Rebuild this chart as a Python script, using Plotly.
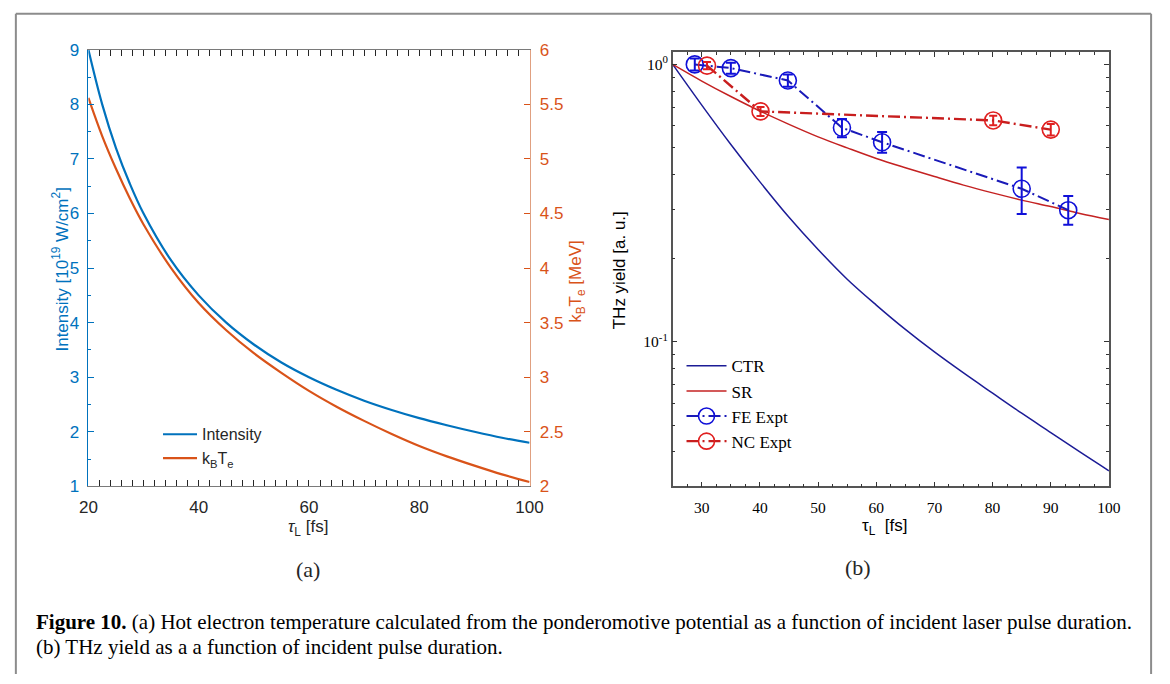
import plotly.graph_objects as go

# ---------------- data: panel (a) ----------------
tau_a = [20, 22.5, 25, 27.5, 30, 35, 40, 45, 50, 55, 60, 65, 70, 75, 80, 85, 90, 95, 100]
intensity = [9.0, 8.0, 7.2, 6.55, 6.0, 5.14, 4.5, 4.0, 3.6, 3.27, 3.0, 2.77, 2.57, 2.4, 2.25, 2.12, 2.0, 1.89, 1.8]
kbte = [5.56, 5.21, 4.91, 4.64, 4.40, 4.00, 3.68, 3.43, 3.22, 3.04, 2.875, 2.73, 2.60, 2.48, 2.37, 2.275, 2.19, 2.11, 2.04]

# ---------------- data: panel (b) ----------------
tau_b = [25, 30, 35, 40, 45, 50, 55, 60, 65, 70, 75, 80, 85, 90, 95, 100]
ctr = [1.0, 0.713, 0.514, 0.377, 0.281, 0.215, 0.168, 0.1355, 0.1107, 0.0918, 0.0771, 0.0652, 0.0552, 0.0470, 0.0400, 0.0342]
sr = [1.0, 0.871, 0.766, 0.679, 0.608, 0.548, 0.500, 0.458, 0.424, 0.394, 0.367, 0.344, 0.324, 0.307, 0.290, 0.276]

fe_tau = [28.8, 35.0, 44.8, 54.1, 61.0, 85.0, 93.0]
fe_y = [1.0, 0.97, 0.875, 0.591, 0.524, 0.356, 0.298]
fe_err_up = [0.05, 0.045, 0.045, 0.045, 0.047, 0.069, 0.037]
fe_err_dn = [0.05, 0.045, 0.045, 0.045, 0.044, 0.067, 0.034]

nc_tau = [30.9, 40.1, 80.1, 90.0]
nc_y = [0.99, 0.677, 0.628, 0.582]
nc_err = [0.03, 0.025, 0.025, 0.028]

log_minor = [0.04, 0.05, 0.06, 0.07, 0.08, 0.09, 0.2, 0.3, 0.4, 0.5, 0.6, 0.7, 0.8, 0.9]

W, H = 1170, 684
def px(x):
    return x / W
def py(y):
    return 1 - y / H

BLUE = "#0072BD"
ORANGE = "#D95319"
GRAY = "#262626"

fig = go.Figure()

fig.add_trace(go.Scatter(x=tau_a, y=intensity, mode="lines", name="Intensity",
                         line=dict(color=BLUE, width=2.2, shape="spline"),
                         xaxis="x", yaxis="y", legend="legend"))
fig.add_trace(go.Scatter(x=tau_a, y=kbte, mode="lines", name="k<sub>B</sub>T<sub>e</sub>",
                         line=dict(color=ORANGE, width=2.2, shape="spline"),
                         xaxis="x", yaxis="y2", legend="legend"))

fig.add_trace(go.Scatter(x=tau_b, y=ctr, mode="lines", name="CTR",
                         line=dict(color="#1c1c96", width=1.5, shape="spline"),
                         xaxis="x2", yaxis="y3", legend="legend2"))
fig.add_trace(go.Scatter(x=tau_b, y=sr, mode="lines", name="SR",
                         line=dict(color="#c42222", width=1.5, shape="spline"),
                         xaxis="x2", yaxis="y3", legend="legend2"))
fig.add_trace(go.Scatter(x=fe_tau, y=fe_y, mode="lines+markers", name="FE Expt",
                         line=dict(color="#1a1ab8", width=2, dash="12px,4px,2px,4px"),
                         marker=dict(symbol="circle-open", size=17, color="#1010d8",
                                     line=dict(width=1.6, color="#1010d8")),
                         error_y=dict(type="data", symmetric=False, array=fe_err_up,
                                      arrayminus=fe_err_dn, color="#1010d8", thickness=2, width=5),
                         xaxis="x2", yaxis="y3", legend="legend2"))
fig.add_trace(go.Scatter(x=nc_tau, y=nc_y, mode="lines+markers", name="NC Expt",
                         line=dict(color="#c81e1e", width=2.4, dash="12px,4px,2px,4px"),
                         marker=dict(symbol="circle-open", size=17, color="#e02020",
                                     line=dict(width=1.6, color="#e02020")),
                         error_y=dict(type="data", array=nc_err, color="#e02020", thickness=2, width=4),
                         xaxis="x2", yaxis="y3", legend="legend2"))

tickfont_a = dict(family="Liberation Sans", size=17, color=GRAY)
serif = "Liberation Serif"

fig.update_layout(
    width=W, height=H,
    margin=dict(l=0, r=0, t=0, b=0),
    paper_bgcolor="white", plot_bgcolor="white",
    showlegend=True,
    xaxis=dict(domain=[px(81), px(531)], range=[20, 100], dtick=20, tick0=20,
               ticks="inside", ticklen=6, tickcolor=GRAY, tickwidth=0.8,
               showline=True, linecolor="#7a7a7a", linewidth=0.8, mirror="allticks",
               showgrid=False, zeroline=False, tickfont=tickfont_a, anchor="y",
               ticklabelstandoff=5,
               minor=dict(dtick=2, tick0=20, ticks="inside", ticklen=3, tickcolor=GRAY, tickwidth=0.6)),
    yaxis=dict(domain=[py(491), py(42)], range=[1, 9], dtick=1,
               ticks="inside", ticklen=6, tickcolor=BLUE, tickwidth=0.8,
               showline=True, linecolor=BLUE, linewidth=0.8,
               showgrid=False, zeroline=False, anchor="x", ticklabelstandoff=5,
               tickfont=dict(family="Liberation Sans", size=17, color=BLUE),
               minor=dict(dtick=0.5, ticks="inside", ticklen=3, tickcolor=BLUE, tickwidth=0.6)),
    yaxis2=dict(range=[2, 6], dtick=0.5, overlaying="y", side="right", anchor="x",
                ticks="inside", ticklen=6, tickcolor=ORANGE, tickwidth=0.8,
                showline=True, linecolor="#e0a080", linewidth=0.8,
                showgrid=False, zeroline=False, ticklabelstandoff=6,
                tickfont=dict(family="Liberation Sans", size=17, color=ORANGE)),
    xaxis2=dict(domain=[px(677), px(1122)], range=[25, 100], tickvals=[30, 40, 50, 60, 70, 80, 90, 100],
                ticks="inside", ticklen=5, tickcolor="#333", tickwidth=1,
                showline=True, linecolor="#555", linewidth=1.5, mirror="allticks",
                showgrid=False, zeroline=False, anchor="y3", ticklabelstandoff=6,
                tickfont=dict(family=serif, size=15.5, color="black"),
                minor=dict(dtick=2.5, tick0=25, ticks="inside", ticklen=3, tickcolor="#333", tickwidth=1)),
    yaxis3=dict(domain=[py(491), py(44)], type="log", range=[-1.522, 0.0456],
                tickvals=[0.1, 1], ticktext=["10<sup>-1</sup>", "10<sup>0</sup>"],
                ticks="inside", ticklen=5, tickcolor="#333", tickwidth=1,
                showline=True, linecolor="#555", linewidth=1.5, mirror="allticks",
                showgrid=False, zeroline=False, anchor="x2",
                tickfont=dict(family=serif, size=15.5, color="black"),
                minor=dict(tickmode="array", tickvals=log_minor, ticks="inside", ticklen=3,
                           tickcolor="#333", tickwidth=1)),
    legend=dict(x=px(152), y=py(420), xanchor="left", yanchor="top",
                bgcolor="rgba(0,0,0,0)", font=dict(family="Liberation Sans", size=16, color=GRAY),
                tracegroupgap=0, itemwidth=34),
    legend2=dict(x=px(686), y=py(349), xanchor="left", yanchor="top",
                 bgcolor="rgba(0,0,0,0)", font=dict(family=serif, size=17, color="black"),
                 tracegroupgap=0, itemwidth=40),
)

annotations = [
    # panel (a) axis titles
    dict(x=px(52), y=py(268), text="Intensity [10<sup>19</sup> W/cm<sup>2</sup>]", textangle=-90,
         font=dict(family="Liberation Sans", size=17, color=BLUE)),
    dict(x=px(580), y=py(280), text="k<sub>B</sub>T<sub>e</sub> [MeV]", textangle=-90,
         font=dict(family="Liberation Sans", size=17, color=ORANGE)),
    dict(x=px(305), y=py(534), text="<i>τ</i><sub>L</sub> [fs]",
         font=dict(family="Liberation Sans", size=17, color=GRAY)),
    dict(x=px(305), y=py(576), text="(a)", font=dict(family=serif, size=22, color=GRAY)),
    # panel (b) axis titles
    dict(x=px(623), y=py(269), text="THz yield [a. u.]", textangle=-90,
         font=dict(family="Liberation Sans", size=17, color="black")),
    dict(x=px(893), y=py(533), text="τ<sub>L</sub>  [fs]",
         font=dict(family="Liberation Sans", size=17, color="black")),
    dict(x=px(866), y=py(574), text="(b)", font=dict(family=serif, size=22, color=GRAY)),
    # caption
    dict(x=px(25), y=py(630), xanchor="left",
         text="<b>Figure 10.</b> (a) Hot electron temperature calculated from the ponderomotive potential as a function of incident laser pulse duration.",
         font=dict(family=serif, size=21, color="black")),
    dict(x=px(25), y=py(656), xanchor="left",
         text="(b) THz yield as a a function of incident pulse duration.",
         font=dict(family=serif, size=21, color="black")),
]
for a in annotations:
    a.setdefault("xanchor", "center")
    a.update(xref="paper", yref="paper", showarrow=False, yanchor="middle")
fig.update_layout(annotations=annotations)

# figure frame
frame = dict(type="line", xref="paper", yref="paper", line=dict(color="#8c8c8c", width=2))
fig.update_layout(shapes=[
    dict(frame, x0=px(7), x1=px(1165), y0=py(5), y1=py(5)),
    dict(frame, x0=px(7), x1=px(7), y0=py(5), y1=0),
    dict(frame, x0=px(1165), x1=px(1165), y0=py(5), y1=0),
])

fig.write_html("out.html")
